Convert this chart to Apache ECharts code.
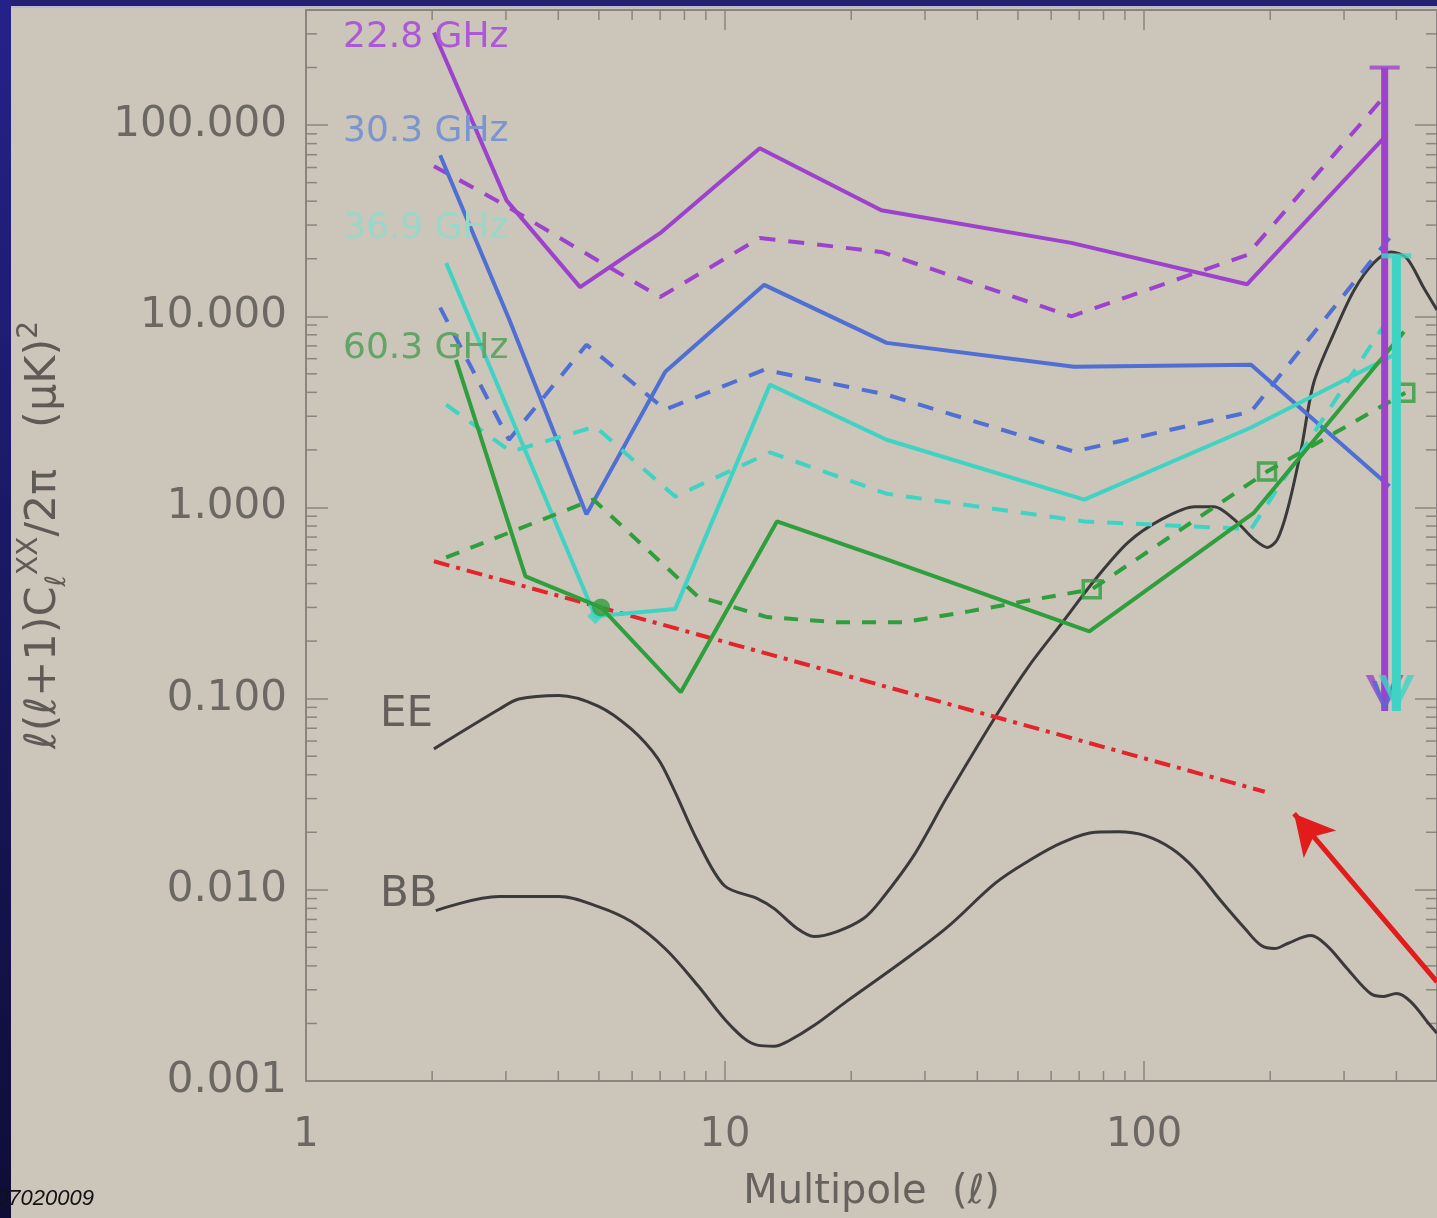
<!DOCTYPE html>
<html><head><meta charset="utf-8">
<script src="https://cdn.jsdelivr.net/npm/echarts@6/dist/echarts.min.js"></script>
<style>html,body{margin:0;padding:0;background:#ccc5ba;}#c{width:1437px;height:1218px;}</style>
</head><body><div id="c"></div>
<script>
// ---------------- data ----------------
const xTickLabels = {1:'1', 10:'10', 100:'100'};
const yTickLabels = ['0.001','0.010','0.100','1.000','10.000','100.000'];
const xMinorTicks = [2,3,4,5,6,7,8,9,20,30,40,50,60,70,80,90,200,300,400];
const yMinorTicks = [0.002,0.003,0.004,0.005,0.006,0.007,0.008,0.009,
                     0.02,0.03,0.04,0.05,0.06,0.07,0.08,0.09,
                     0.2,0.3,0.4,0.5,0.6,0.7,0.8,0.9,
                     2,3,4,5,6,7,8,9,20,30,40,50,60,70,80,90,200,300];

const ellPurple    = [2.02, 3.01, 4.51, 7.0, 12.1, 23.6, 67, 176, 372];
const purpleSolid  = [305, 40.4, 14.2, 27.2, 75.7, 35.9, 24.2, 14.7, 85];
const purpleDashed = [61, 37.7, 22.2, 12.6, 25.7, 21.7, 10.0, 20.9, 139];

const ellBlue    = [2.09, 3.05, 4.67, 7.2, 12.4, 24.3, 68, 180, 385];
const blueSolid  = [69.5, 9.7, 0.92, 5.13, 14.6, 7.26, 5.44, 5.57, 1.29];
const blueDashed = [11.1, 2.26, 7.1, 3.25, 5.25, 3.89, 1.96, 3.17, 25.7];

const ellCyan    = [2.16, 3.08, 4.9, 7.6, 12.8, 24.3, 72, 180, 395];
const cyanSolid  = [19.0, 3.0, 0.27, 0.294, 4.39, 2.26, 1.10, 2.62, 6.29];
const cyanDashed = [3.45, 1.96, 2.65, 1.14, 1.94, 1.18, 0.845, 0.77, 10.8];

const ellGreen   = [2.28, 3.34, 5.06, 7.84, 13.3, 24.3, 74, 183, 417];
const greenSolid = [5.92, 0.436, 0.30, 0.108, 0.845, 0.535, 0.225, 0.94, 8.3];
const ellGreenModel = [2.16, 4.85, 8.6, 12.6, 18.5, 26.7, 38.2, 55.1, 75, 196.5, 420];
const greenModel    = [0.548, 1.10, 0.343, 0.267, 0.251, 0.251, 0.286, 0.331, 0.373, 1.54, 3.98];
const greenSquareIdx = [8, 9, 10];
const greenDot = [5.06, 0.30];
const cyanDiamond = [4.9, 0.27];

const ellDust = [2.02, 194];
const dustLimit = [0.523, 0.0326];

const ellEE = [2.02, 2.89, 3.22, 4.01, 4.98, 5.97, 6.92, 7.59, 8.61, 9.97, 11.94, 13.1, 14.86, 16.3, 18.5, 21.4, 23.4, 28.2, 33.7, 44.3, 53.1, 63.9, 76.5, 91.6, 110, 132, 147, 164, 183, 197, 208, 220, 237, 254, 284, 317, 353, 388, 423, 464, 500];
const EE    = [0.0546, 0.088, 0.0995, 0.104, 0.0915, 0.0694, 0.0484, 0.0326, 0.0179, 0.0105, 0.0090, 0.00797, 0.00627, 0.0057, 0.00605, 0.00708, 0.00868, 0.0151, 0.030, 0.0811, 0.148, 0.251, 0.421, 0.657, 0.866, 1.01, 1.01, 0.866, 0.681, 0.618, 0.681, 0.976, 2.01, 4.49, 8.19, 13.7, 19.0, 21.7, 20.2, 14.2, 10.8];

const ellBB = [2.04, 2.89, 4.01, 4.98, 5.97, 7.19, 8.61, 10.3, 11.94, 13.1, 14.1, 16.3, 19.5, 25.7, 33.7, 44.3, 53.1, 63.9, 76.5, 86.8, 100.6, 116.5, 132, 153, 174, 190.5, 205, 220, 250, 273, 305, 347, 373, 400, 432, 482, 500];
const BB    = [0.00778, 0.00922, 0.00922, 0.00817, 0.00682, 0.00493, 0.00316, 0.00195, 0.00154, 0.00152, 0.00161, 0.00195, 0.00261, 0.00402, 0.0063, 0.0109, 0.0142, 0.0177, 0.0200, 0.0201, 0.0192, 0.0164, 0.0129, 0.00868, 0.00627, 0.00511, 0.00493, 0.00524, 0.00577, 0.00511, 0.00388, 0.00287, 0.00277, 0.00287, 0.00261, 0.00195, 0.00178];

// upper-limit arrows
const limitPurple = {ell: 375, top: 200, bottom: 0.0861};
const limitCyan   = {ell: 400, top: 20.7, bottom: 0.0861};
// red annotation arrow
const arrowEll = [500, 228];
const arrowVal = [0.0033, 0.025];

const X_MIN = 1, X_MAX = 500, Y_MIN = 0.001, Y_MAX = 400;

// ---------------- styling ----------------
const C = {purple:'#9c42cc', blue:'#4f6fd3', cyan:'#3fd3c4', green:'#2f9e3c', black:'#3a3a3a', red:'#e4232b', axis:'#8a857f', text:'#6b6864'};
const FONT = 'DejaVu Sans';
const zip = (a, b) => a.map((x, i) => [x, b[i]]);

function lineSeries(name, xs, ys, color, dashed, width, extra) {
  return Object.assign({
    name, type: 'line', data: zip(xs, ys), symbol: 'none', silent: true,
    lineStyle: {color, width: width || 4, type: dashed ? [16, 13] : 'solid', cap: 'butt'},
    z: 3
  }, extra || {});
}

const vPath = 'path://M0,0 L4,0 L10,15 L16,0 L20,0 L10,20 Z';

const series = [
  lineSeries('EE', ellEE, EE, C.black, false, 3, {smooth: 0.3, z: 2}),
  lineSeries('BB', ellBB, BB, C.black, false, 3, {smooth: 0.35, z: 2}),
  lineSeries('dust', ellDust, dustLimit, C.red, false, 4, {lineStyle:{color:C.red, width:4, type:[16,7,4,7]}}),
  lineSeries('22.8 solid', ellPurple, purpleSolid, C.purple, false),
  lineSeries('22.8 dashed', ellPurple, purpleDashed, C.purple, true),
  lineSeries('30.3 solid', ellBlue, blueSolid, C.blue, false),
  lineSeries('30.3 dashed', ellBlue, blueDashed, C.blue, true),
  lineSeries('36.9 solid', ellCyan, cyanSolid, C.cyan, false),
  lineSeries('36.9 dashed', ellCyan, cyanDashed, C.cyan, true),
  lineSeries('60.3 solid', ellGreen, greenSolid, C.green, false),
  lineSeries('60.3 model', ellGreenModel, greenModel, C.green, true, 4, {lineStyle:{color:C.green,width:4,type:[14,12]}}),
  {type:'scatter', silent:true, z:5, symbol:'rect', symbolSize:17,
   itemStyle:{color:'rgba(0,0,0,0)', borderColor:C.green, borderWidth:3.5},
   data: greenSquareIdx.map(i => [ellGreenModel[i], greenModel[i]])},
  {type:'scatter', silent:true, z:5, symbol:'diamond', symbolSize:16, itemStyle:{color:C.cyan}, data:[cyanDiamond]},
  {type:'scatter', silent:true, z:6, symbol:'circle', symbolSize:18, itemStyle:{color:C.green}, data:[greenDot]},
  // upper limits
  lineSeries('22.8 limit', [limitPurple.ell, limitPurple.ell], [limitPurple.top, limitPurple.bottom], C.purple, false, 7, {z:7}),
  lineSeries('36.9 limit', [limitCyan.ell, limitCyan.ell], [limitCyan.top, limitCyan.bottom], C.cyan, false, 9, {z:8}),
  {type:'scatter', silent:true, z:7, symbol:'rect', symbolSize:[30,4], itemStyle:{color:C.purple}, data:[[limitPurple.ell, limitPurple.top]]},
  {type:'scatter', silent:true, z:8, symbol:'rect', symbolSize:[30,5], itemStyle:{color:C.cyan}, data:[[limitCyan.ell, limitCyan.top]]},
  {type:'scatter', silent:true, z:7, symbol:vPath, symbolSize:[38,36], symbolOffset:[0,'-50%'], itemStyle:{color:C.purple}, data:[[limitPurple.ell, limitPurple.bottom]]},
  {type:'scatter', silent:true, z:7, symbol:vPath, symbolSize:[26,30], symbolOffset:[0,'-50%'], itemStyle:{color:C.blue}, data:[[limitPurple.ell, limitPurple.bottom]]},
  {type:'scatter', silent:true, z:8, symbol:vPath, symbolSize:[36,36], symbolOffset:[0,'-50%'], itemStyle:{color:C.cyan}, data:[[limitCyan.ell, limitCyan.bottom]]},
  // red annotation arrow
  {type:'line', silent:true, data:[], z:9,
   markLine:{silent:true, symbol:['none','arrow'], symbolSize:[32,40], animation:false,
     lineStyle:{color:'#e21b1b', width:5, type:'solid'}, label:{show:false},
     data:[[{coord:[arrowEll[0], arrowVal[0]]}, {coord:[arrowEll[1], arrowVal[1]]}]]}},
  // minor ticks
  {type:'custom', silent:true, clip:false, z:1, data: xMinorTicks.map(v => [v, 1]),
   renderItem:(p, api) => {
     const v = api.value(0); const b = api.coord([v, Y_MIN]); const t = api.coord([v, Y_MAX]);
     const st = {stroke:C.axis, lineWidth:1.5};
     return {type:'group', children:[
       {type:'line', shape:{x1:b[0], y1:b[1], x2:b[0], y2:b[1]-10}, style:st},
       {type:'line', shape:{x1:t[0], y1:t[1], x2:t[0], y2:t[1]+10}, style:st}]};
   }},
  {type:'custom', silent:true, clip:false, z:1, data: yMinorTicks.map(v => [1, v]),
   renderItem:(p, api) => {
     const v = api.value(1); const l = api.coord([X_MIN, v]); const r = api.coord([X_MAX, v]);
     const st = {stroke:C.axis, lineWidth:1.5};
     return {type:'group', children:[
       {type:'line', shape:{x1:l[0], y1:l[1], x2:l[0]+11, y2:l[1]}, style:st},
       {type:'line', shape:{x1:r[0], y1:r[1], x2:r[0]-11, y2:r[1]}, style:st}]};
   }}
];

function axisCommon() {
  return {
    type:'log', logBase:10, splitLine:{show:false},
    axisLine:{show:true, lineStyle:{color:C.axis, width:2}},
    axisTick:{show:true, inside:true, lineStyle:{color:C.axis, width:1.5}}
  };
}

const option = {
  animation:false,
  backgroundColor:'#ccc5ba',
  grid:{left:306, top:10, right:-7, bottom:135, containLabel:false},
  xAxis:[
    Object.assign(axisCommon(), {min:X_MIN, max:X_MAX, position:'bottom',
      axisTick:{show:true, inside:true, length:20, lineStyle:{color:C.axis, width:1.5}},
      axisLabel:{margin:35, fontSize:40, color:C.text, fontFamily:FONT, showMaxLabel:false,
        formatter:v => xTickLabels[Math.round(v)] || ''},
      name:'Multipole  (ℓ)', nameLocation:'middle', nameGap:92,
      nameTextStyle:{fontSize:40, color:'#66625e', fontFamily:FONT}}),
    Object.assign(axisCommon(), {min:X_MIN, max:X_MAX, position:'top',
      axisTick:{show:true, inside:true, length:20, lineStyle:{color:C.axis, width:1.5}},
      axisLabel:{show:false}})
  ],
  yAxis:[
    Object.assign(axisCommon(), {min:Y_MIN, max:Y_MAX, position:'left',
      axisTick:{show:true, inside:true, length:22, lineStyle:{color:C.axis, width:1.5}},
      axisLabel:{margin:19, fontSize:42, color:C.text, fontFamily:FONT, showMaxLabel:false,
        padding:[8,0,0,0],
        formatter:v => yTickLabels[Math.round(Math.log10(v)) + 3] || ''}}),
    Object.assign(axisCommon(), {min:Y_MIN, max:Y_MAX, position:'right',
      axisTick:{show:true, inside:true, length:22, lineStyle:{color:C.axis, width:1.5}},
      axisLabel:{show:false}})
  ],
  series,
  graphic:[
    {type:'rect', left:0, top:0, z:100, shape:{width:1437, height:6}, style:{fill:'#23216f'}},
    {type:'rect', left:0, top:6, z:100, shape:{width:1437, height:2}, style:{fill:'#b9b8d6'}},
    {type:'rect', left:0, top:0, z:101, shape:{width:11, height:1218},
      style:{fill:new echarts.graphic.LinearGradient(0,0,0,1,[{offset:0,color:'#24228a'},{offset:1,color:'#0f0d36'}])}},
    {type:'text', x:-4, y:1199, z:102, style:{text:'07020009', font:'italic 22px "Liberation Sans"', fill:'#111', textVerticalAlign:'middle'}},
    {type:'text', x:343, y:38, z:50, style:{text:'22.8 GHz', font:'36px "DejaVu Sans"', fill:'#ad58d4', textVerticalAlign:'middle'}},
    {type:'text', x:343, y:132, z:50, style:{text:'30.3 GHz', font:'36px "DejaVu Sans"', fill:'#7c95cf', textVerticalAlign:'middle'}},
    {type:'text', x:343, y:229, z:50, style:{text:'36.9 GHz', font:'36px "DejaVu Sans"', fill:'#98d8c9', textVerticalAlign:'middle'}},
    {type:'text', x:343, y:349, z:50, style:{text:'60.3 GHz', font:'36px "DejaVu Sans"', fill:'#63a566', textVerticalAlign:'middle'}},
    {type:'text', x:380, y:715, z:50, style:{text:'EE', font:'42px "DejaVu Sans"', fill:'#625e5a', textVerticalAlign:'middle'}},
    {type:'text', x:380, y:895, z:50, style:{text:'BB', font:'42px "DejaVu Sans"', fill:'#625e5a', textVerticalAlign:'middle'}},
    {type:'text', x:44, y:535, rotation:Math.PI/2, z:50,
      style:{text:'{m|ℓ(ℓ+1)C}{sub|ℓ}{sup|XX}{m|/2π   (μK)}{sup|2}',
        align:'center', verticalAlign:'middle', fill:'#5e5a56',
        rich:{
          m:{fontSize:43, fontFamily:FONT, fill:'#5e5a56', lineHeight:56, verticalAlign:'middle'},
          sub:{fontSize:28, fontFamily:FONT, fill:'#5e5a56', lineHeight:56, verticalAlign:'bottom'},
          sup:{fontSize:28, fontFamily:FONT, fill:'#5e5a56', lineHeight:56, verticalAlign:'top'}
        }}}
  ]
};

const chart = echarts.init(document.getElementById('c'), null, {renderer:'canvas'});
chart.setOption(option);
</script></body></html>
